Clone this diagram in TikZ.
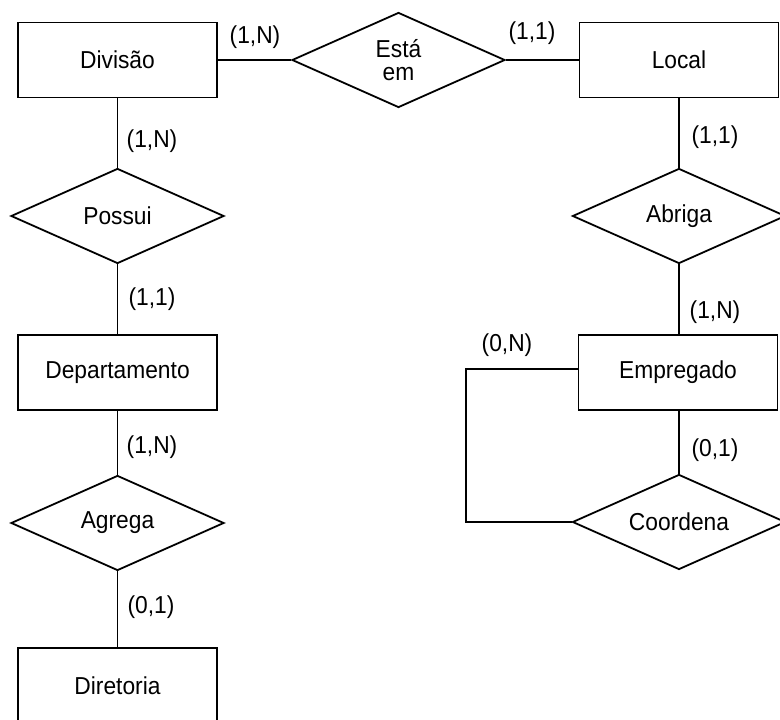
\documentclass[tikz,border=0pt]{standalone}
\usepackage{fontspec}
\setmainfont[FakeStretch=0.93]{Liberation Sans}
\usetikzlibrary{shapes.geometric}
\begin{document}
\begin{tikzpicture}[x=1pt,y=-1pt,
  every node/.style={font=\fontsize{24.5}{22}\selectfont},
  entity/.style={draw, line width=1.8pt, rectangle, minimum width=199pt, minimum height=75pt, inner sep=0pt},
  relation/.style={draw, line width=1.8pt, diamond, aspect=2.24, minimum width=213pt, minimum height=95pt, inner sep=0pt},
  card/.style={inner sep=0pt},
  link/.style={line width=1.8pt}]
\clip (0,0) rectangle (780,720);
\fill[white] (0,0) rectangle (780,720);
% entities
\node[entity] (div) at (117.5,60) {Divisão};
\node[entity] (dep) at (117.5,372.5) {Departamento};
\node[entity] (dir) at (117.5,685.5) {Diretoria};
\node[entity] (loc) at (679,60) {Local};
\node[entity] (emp) at (678,372.5) {Empregado};
% relationships
\node[relation, align=center, font=\fontsize{24.5}{23}\selectfont] (esta) at (398.5,60) {Está\\em};
\node[relation] (pos) at (117.5,216) {Possui};
\node[relation] (agr) at (117.5,523) {Agrega};
\node[relation] (abr) at (679,216) {Abriga};
\node[relation] (coo) at (679,522) {Coordena};
% connectors
\draw[link] (div.east) -- (esta.west);
\draw[link] (esta.east) -- (loc.west);
\draw[link] (div.south) -- (pos.north);
\draw[link] (pos.south) -- (dep.north);
\draw[link] (dep.south) -- (agr.north);
\draw[link] (agr.south) -- (dir.north);
\draw[link] (loc.south -| abr.north) -- (abr.north);
\draw[link] (abr.south) -- (emp.north -| abr.south);
\draw[link] (emp.south -| coo.north) -- (coo.north);
\coordinate (lt) at (466,369);
\draw[link] (emp.west |- lt) -- (lt) -- (lt |- coo.west) -- (coo.west);
% cardinalities
\node[card] (c1) at (255,37) {(1,N)};
\node[card] (c2) at (532,33) {(1,1)};
\node[card] (c3) at (152,141) {(1,N)};
\node[card] (c4) at (152,299) {(1,1)};
\node[card] (c5) at (152,447) {(1,N)};
\node[card] (c6) at (151,607) {(0,1)};
\node[card] (c7) at (715,137) {(1,1)};
\node[card] (c8) at (715,312) {(1,N)};
\node[card] (c9) at (507,345) {(0,N)};
\node[card] (c10) at (715,450) {(0,1)};
\end{tikzpicture}
\end{document}
